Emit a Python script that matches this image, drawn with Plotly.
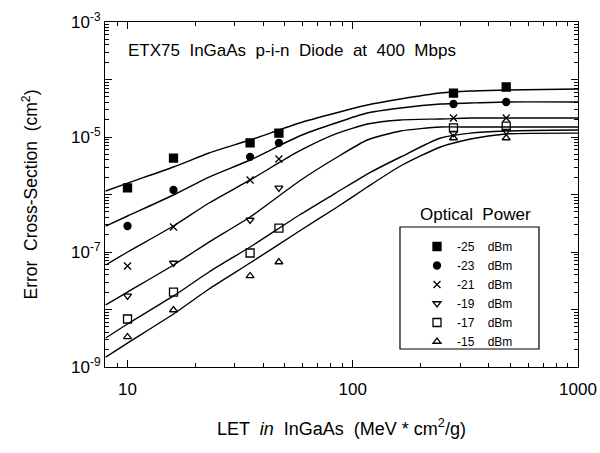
import plotly.graph_objects as go

# ---- data ----
let_pts = [10, 16, 35, 47, 280, 480]
powers = ["-25    dBm", "-23    dBm", "-21    dBm", "-19    dBm", "-17    dBm", "-15    dBm"]
sig_m25 = [1.30e-6, 4.3e-6, 7.9e-6, 1.17e-5, 5.8e-5, 7.4e-5]
sig_m23 = [2.83e-7, 1.20e-6, 4.5e-6, 7.9e-6, 3.75e-5, 4.06e-5]
sig_m21 = [5.7e-8, 2.72e-7, 1.79e-6, 4.14e-6, 2.14e-5, 2.14e-5]
sig_m19 = [1.72e-8, 6.44e-8, 3.6e-7, 1.30e-6, 1.17e-5, 1.27e-5]
sig_m17 = [6.84e-9, 2.01e-8, 9.6e-8, 2.61e-7, 1.44e-5, 1.55e-5]
sig_m15 = [3.33e-9, 9.8e-9, 3.83e-8, 6.7e-8, 9.6e-6, 9.6e-6]

let_fit = [8, 10, 16, 23, 35, 58, 84, 116, 163, 245, 333, 476, 1000]
fit_m25 = [1.15e-6, 1.58e-6, 3.01e-6, 5.27e-6, 8.87e-6, 1.75e-5, 2.61e-5, 3.60e-5, 4.58e-5, 5.82e-5, 6.31e-5, 6.57e-5, 6.84e-5]
fit_m23 = [2.83e-7, 4.23e-7, 9.8e-7, 2.01e-6, 3.98e-6, 1.04e-5, 1.75e-5, 2.61e-5, 3.19e-5, 3.75e-5, 3.90e-5, 4.06e-5, 4.06e-5]
fit_m21 = [5.94e-8, 1.0e-7, 2.83e-7, 7.11e-7, 1.79e-6, 5.71e-6, 1.13e-5, 1.68e-5, 1.98e-5, 2.06e-5, 2.14e-5, 2.14e-5, 2.14e-5]
fit_m19 = [1.20e-8, 2.01e-8, 5.94e-8, 1.49e-7, 4.06e-7, 1.72e-6, 4.31e-6, 8.87e-6, 1.27e-5, 1.49e-5, 1.49e-5, 1.49e-5, 1.49e-5]
fit_m17 = [3.19e-9, 5.60e-9, 1.72e-8, 4.49e-8, 1.22e-7, 4.40e-7, 1.06e-6, 2.27e-6, 4.49e-6, 9.61e-6, 1.17e-5, 1.27e-5, 1.32e-5]
fit_m15 = [1.49e-9, 2.61e-9, 8.35e-9, 2.27e-8, 6.44e-8, 2.32e-7, 5.82e-7, 1.35e-6, 3.13e-6, 6.70e-6, 9.23e-6, 1.13e-5, 1.17e-5]

points = [sig_m25, sig_m23, sig_m21, sig_m19, sig_m17, sig_m15]
fits = [fit_m25, fit_m23, fit_m21, fit_m19, fit_m17, fit_m15]
symbols = ["square", "circle", "x-thin-open", "triangle-down-open", "square-open", "triangle-up-open"]
sizes = [8, 7, 7, 7, 8, 7]

FONT = "Arial, Liberation Sans, sans-serif"
L, R, T, B = 105, 22, 22, 86
PW, PH = 600 - L - R, 453 - T - B


def px(xp):
    return (xp - L) / PW


def py(yp):
    return 1 - (yp - T) / PH


fig = go.Figure()

for f in fits:
    fig.add_trace(go.Scatter(x=let_fit, y=f, mode="lines", line=dict(color="black", width=1.4, shape="spline", smoothing=0.6),
                             showlegend=False, hoverinfo="skip"))

for name, p, s, sz in zip(powers, points, symbols, sizes):
    fig.add_trace(go.Scatter(x=let_pts, y=p, mode="markers", name=name,
                             marker=dict(symbol=s, size=sz, color="black", line=dict(color="black", width=1.3))))

x_minor = [k * 10 ** e for e in (0, 1, 2) for k in range(2, 10) if 7.9 < k * 10 ** e < 1000]
y_minor = [k * 10.0 ** e for e in range(-9, -3) for k in range(2, 10)]
y_major = [10.0 ** e for e in range(-9, -2)]
y_text = ["10<sup>-9</sup>", "", "10<sup>-7</sup>", "", "10<sup>-5</sup>", "", "10<sup>-3</sup>"]

fig.update_xaxes(type="log", range=[0.9, 3.0], tickvals=[10, 100, 1000], ticktext=["10", "100", "1000"],
                 ticks="inside", ticklen=7, tickwidth=1, tickcolor="black", mirror="allticks",
                 showline=True, linecolor="black", linewidth=1.2, showgrid=False, zeroline=False,
                 tickfont=dict(family=FONT, size=17, color="black"), ticklabelstandoff=6, automargin=False,
                 minor=dict(tickvals=x_minor, ticks="inside", ticklen=4, tickcolor="black", showgrid=False),
                 title=dict(text="LET  <i>in</i>  InGaAs  (MeV * cm<sup>2</sup>/g)", standoff=24,
                            font=dict(family=FONT, size=18, color="black")))
fig.update_yaxes(type="log", range=[-9, -3], tickvals=y_major, ticktext=y_text,
                 ticks="inside", ticklen=7, tickwidth=1, tickcolor="black", mirror="allticks",
                 showline=True, linecolor="black", linewidth=1.2, showgrid=False, zeroline=False,
                 tickfont=dict(family=FONT, size=17, color="black"), automargin=False,
                 minor=dict(tickvals=y_minor, ticks="inside", ticklen=4, tickcolor="black", showgrid=False),
                 title=dict(text="Error  Cross-Section  (cm<sup>2</sup>)", standoff=28,
                            font=dict(family=FONT, size=17.5, color="black")))

fig.add_annotation(text="ETX75  InGaAs  p-i-n  Diode  at  400  Mbps", xref="paper", yref="paper",
                   x=px(126), y=py(50), xanchor="left", yanchor="middle", showarrow=False,
                   font=dict(family=FONT, size=17, color="black"))
fig.add_annotation(text="Optical  Power", xref="paper", yref="paper",
                   x=px(475), y=py(215), xanchor="center", yanchor="middle",
                   showarrow=False, font=dict(family=FONT, size=17, color="black"))
fig.add_shape(type="rect", xref="paper", yref="paper", x0=px(400), x1=px(539), y0=py(349), y1=py(227),
              line=dict(color="black", width=1.2), fillcolor="white", layer="below")

fig.update_layout(width=600, height=453, margin=dict(l=L, r=R, t=T, b=B),
                  paper_bgcolor="white", plot_bgcolor="white",
                  legend=dict(x=px(417), y=py(232), xanchor="left", yanchor="top",
                              bgcolor="rgba(0,0,0,0)", borderwidth=0,
                              font=dict(family=FONT, size=12, color="black"), tracegroupgap=0,
                              itemwidth=30),
                  font=dict(family=FONT, color="black"))

fig.write_html("out.html", config={"displayModeBar": False},
               post_script="document.body.style.margin='0px';document.body.style.overflow='hidden';")
